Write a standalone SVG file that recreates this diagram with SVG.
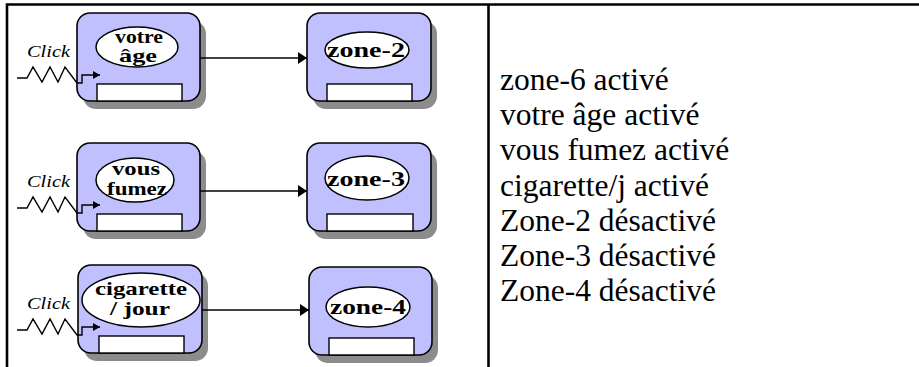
<svg xmlns="http://www.w3.org/2000/svg" width="919" height="367" viewBox="0 0 919 367">
<style>
.shadow{fill:#8c8c8c}
.box{fill:#c0c0ff;stroke:#000;stroke-width:1.6}
.ell{fill:#fff;stroke:#000;stroke-width:1.5}
.slot{fill:#fff;stroke:#000;stroke-width:1.4}
.lbl{font-family:"Liberation Serif","Times New Roman",serif;font-weight:bold;font-size:19px;fill:#000;text-anchor:middle}
.zlbl{font-family:"Liberation Serif","Times New Roman",serif;font-weight:bold;font-size:21px;fill:#000;text-anchor:middle}
.click{font-family:"Liberation Serif","Times New Roman",serif;font-style:italic;font-size:17px;fill:#000}
.conn{fill:none;stroke:#000;stroke-width:1.5}
.sig{fill:none;stroke:#000;stroke-width:1.4;stroke-linejoin:miter}
.frame{fill:none;stroke:#000;stroke-width:2.6}
.txt{font-family:"Liberation Serif","Times New Roman",serif;font-size:31.5px;fill:#000}
</style>
<defs>
<marker id="arr" markerUnits="userSpaceOnUse" markerWidth="10" markerHeight="12" refX="9" refY="6" orient="auto">
<path d="M0,0 L9,6 L0,12 z" fill="#000"/>
</marker>
<marker id="arrs" markerUnits="userSpaceOnUse" markerWidth="8" markerHeight="8" refX="7" refY="4" orient="auto">
<path d="M0,0 L7,4 L0,8 z" fill="#000"/>
</marker>
<path id="signal" d="M17,78 L27,78 L33,67 L42,82 L50,67 L58,82 L65,67 L77,83 L82,83 L82,75 L100,75"/>
</defs>

<g id="frame">
<path class="frame" d="M7,367 L7,4.5 L919,4.5"/>
<line class="frame" x1="488.5" y1="4.5" x2="488.5" y2="367"/>
</g>

<g id="node-votre-age">
<rect class="shadow" x="83" y="21" width="123" height="88" rx="13"/>
<rect class="box" x="77" y="13" width="123" height="88" rx="13"/>
<ellipse class="ell" cx="137" cy="47" rx="41" ry="20"/>
<rect class="slot" x="97" y="84" width="85" height="17"/>
<text class="lbl" x="139" y="43" font-size="18" textLength="48" lengthAdjust="spacingAndGlyphs">votre</text>
<text class="lbl" x="138" y="62" font-size="18" textLength="38" lengthAdjust="spacingAndGlyphs">âge</text>
</g>

<g id="node-zone-2">
<rect class="shadow" x="313" y="21" width="124" height="88" rx="13"/>
<rect class="box" x="307" y="13" width="124" height="88" rx="13"/>
<ellipse class="ell" cx="367" cy="50" rx="42" ry="18"/>
<rect class="slot" x="327" y="84" width="85" height="17"/>
<text class="zlbl" x="366" y="57" textLength="78" lengthAdjust="spacingAndGlyphs">zone-2</text>
</g>

<g id="node-vous-fumez">
<rect class="shadow" x="83" y="151" width="123" height="88" rx="13"/>
<rect class="box" x="77" y="143" width="123" height="88" rx="13"/>
<ellipse class="ell" cx="135" cy="180" rx="39" ry="22"/>
<rect class="slot" x="97" y="214" width="85" height="17"/>
<text class="lbl" x="136" y="175" textLength="48" lengthAdjust="spacingAndGlyphs">vous</text>
<text class="lbl" x="137" y="195" textLength="60" lengthAdjust="spacingAndGlyphs">fumez</text>
</g>

<g id="node-zone-3">
<rect class="shadow" x="313" y="151" width="124" height="88" rx="13"/>
<rect class="box" x="307" y="143" width="124" height="88" rx="13"/>
<ellipse class="ell" cx="367" cy="178" rx="42" ry="22"/>
<rect class="slot" x="327" y="214" width="86" height="17"/>
<text class="zlbl" x="366" y="186" textLength="78" lengthAdjust="spacingAndGlyphs">zone-3</text>
</g>

<g id="node-cigarette-jour">
<rect class="shadow" x="84" y="273" width="124" height="88" rx="13"/>
<rect class="box" x="78" y="265" width="124" height="88" rx="13"/>
<ellipse class="ell" cx="141" cy="300" rx="59" ry="27"/>
<rect class="slot" x="99" y="336" width="85" height="17"/>
<text class="lbl" x="141" y="295" textLength="92" lengthAdjust="spacingAndGlyphs">cigarette</text>
<text class="lbl" x="140" y="315" textLength="60" lengthAdjust="spacingAndGlyphs">/ jour</text>
</g>

<g id="node-zone-4">
<rect class="shadow" x="315" y="275" width="123" height="88" rx="13"/>
<rect class="box" x="309" y="267" width="123" height="88" rx="13"/>
<ellipse class="ell" cx="368" cy="307" rx="42" ry="20"/>
<rect class="slot" x="329" y="338" width="85" height="17"/>
<text class="zlbl" x="368" y="314" textLength="76" lengthAdjust="spacingAndGlyphs">zone-4</text>
</g>

<g id="connectors">
<line class="conn" x1="200" y1="58" x2="307" y2="58" marker-end="url(#arr)"/>
<line class="conn" x1="200" y1="191" x2="307" y2="191" marker-end="url(#arr)"/>
<line class="conn" x1="202" y1="310" x2="309" y2="310" marker-end="url(#arr)"/>
<use href="#signal" class="sig" marker-end="url(#arrs)"/>
<use href="#signal" class="sig" transform="translate(0,130)" marker-end="url(#arrs)"/>
<use href="#signal" class="sig" transform="translate(0,252)" marker-end="url(#arrs)"/>
</g>

<g id="click-labels">
<text class="click" x="27" y="57" textLength="43" lengthAdjust="spacingAndGlyphs">Click</text>
<text class="click" x="27" y="187" textLength="43" lengthAdjust="spacingAndGlyphs">Click</text>
<text class="click" x="27" y="309" textLength="43" lengthAdjust="spacingAndGlyphs">Click</text>
</g>

<g id="status-text">
<text class="txt" x="500" y="90">zone-6 activé</text>
<text class="txt" x="500" y="125.2">votre âge activé</text>
<text class="txt" x="500" y="160.4">vous fumez activé</text>
<text class="txt" x="500" y="195.6">cigarette/j activé</text>
<text class="txt" x="500" y="230.8">Zone-2 désactivé</text>
<text class="txt" x="500" y="266">Zone-3 désactivé</text>
<text class="txt" x="500" y="301.2">Zone-4 désactivé</text>
</g>
</svg>
